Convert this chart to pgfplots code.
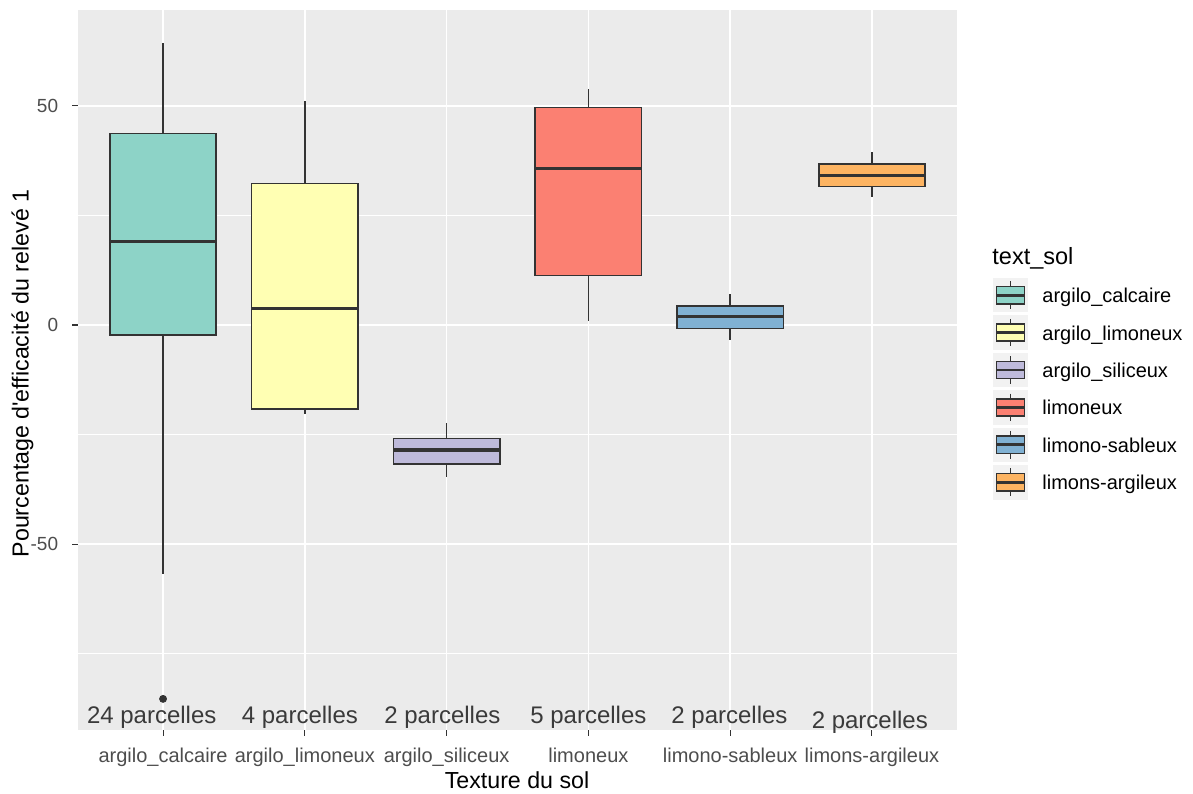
\documentclass[border=0pt]{standalone}
\usepackage{fontspec}
\setmainfont{Liberation Sans}
\usepackage{pgfplots}
\pgfplotsset{compat=1.18}
\usepgfplotslibrary{statistics}
\definecolor{bgcol}{HTML}{EBEBEB}
\definecolor{keybg}{HTML}{F2F2F2}
\definecolor{c333}{HTML}{333333}
\definecolor{tickcol}{HTML}{4D4D4D}
\definecolor{annot}{HTML}{3A3A3A}
\definecolor{s1}{HTML}{8DD3C7}
\definecolor{s2}{HTML}{FFFFB3}
\definecolor{s3}{HTML}{BEBADA}
\definecolor{s4}{HTML}{FB8072}
\definecolor{s5}{HTML}{80B1D3}
\definecolor{s6}{HTML}{FDB462}
\begin{document}
\begin{tikzpicture}
\useasboundingbox (0,0) rectangle (596.5pt,396.5pt);
\begin{axis}[
  at={(39pt,31.5pt)}, anchor=south west,
  scale only axis, width=439.5pt, height=360pt,
  xmin=0.4, xmax=6.6, ymin=-92.4, ymax=71.87,
  clip=false,
  axis background/.style={fill=bgcol},
  axis x line=bottom, axis y line=left,
  axis line style={draw=none},
  xtick={1,2,3,4,5,6},
  xticklabels={argilo\_calcaire,argilo\_limoneux,argilo\_siliceux,limoneux,limono-sableux,limons-argileux},
  ytick={-50,0,50},
  yticklabels={-50,0,50},
  minor ytick={-75,-25,25,75},
  xmajorgrids, ymajorgrids, yminorgrids,
  major grid style={white, line width=0.85pt},
  minor grid style={white, line width=0.45pt},
  tick align=outside,
  major tick length=2.75pt,
  minor tick length=0pt,
  tick style={c333, line width=0.55pt},
  xticklabel style={font=\fontsize{10}{12}\selectfont, text=tickcol, inner sep=0pt, anchor=base, yshift=-13.4pt},
  yticklabel style={font=\fontsize{9.5}{11}\selectfont, text=tickcol, inner sep=0pt, anchor=east, xshift=-7pt},
  boxplot/draw direction=y,
  boxplot/box extend=0.75,
  boxplot/whisker extend=0,
  boxplot/every box/.style={line width=0.8pt},
  boxplot/every whisker/.style={line width=0.8pt},
  boxplot/every median/.style={line width=1.6pt},
]
\addplot[boxplot prepared={draw position=1, lower whisker=-56.8, lower quartile=-2.3, median=19.0, upper quartile=43.7, upper whisker=64.4}, draw=c333, fill=s1, mark=*, mark size=1.75pt, mark options={fill=c333, draw=c333}]
  table[row sep=\\, y index=0] {data\\ -85.3\\};
\addplot[boxplot prepared={draw position=2, lower whisker=-20.4, lower quartile=-19.2, median=3.8, upper quartile=32.3, upper whisker=51.2}, draw=c333, fill=s2] coordinates {};
\addplot[boxplot prepared={draw position=3, lower whisker=-34.6, lower quartile=-31.7, median=-28.5, upper quartile=-25.9, upper whisker=-22.3}, draw=c333, fill=s3] coordinates {};
\addplot[boxplot prepared={draw position=4, lower whisker=0.9, lower quartile=11.3, median=35.7, upper quartile=49.6, upper whisker=53.8}, draw=c333, fill=s4] coordinates {};
\addplot[boxplot prepared={draw position=5, lower whisker=-3.4, lower quartile=-0.8, median=1.9, upper quartile=4.4, upper whisker=7.1}, draw=c333, fill=s5] coordinates {};
\addplot[boxplot prepared={draw position=6, lower whisker=29.3, lower quartile=31.6, median=34.2, upper quartile=36.7, upper whisker=39.4}, draw=c333, fill=s6] coordinates {};
\begin{scope}[every node/.style={font=\fontsize{12}{14}\selectfont, text=annot, inner sep=0pt}]
\node at (axis cs:0.92,-89.6) {24 parcelles};
\node at (axis cs:1.965,-89.6) {4 parcelles};
\node at (axis cs:2.97,-89.6) {2 parcelles};
\node at (axis cs:4,-89.6) {5 parcelles};
\node at (axis cs:4.995,-89.6) {2 parcelles};
\node at (axis cs:5.985,-90.7) {2 parcelles};
\end{scope}
\end{axis}
% axis titles
\node[font=\fontsize{11.6}{14}\selectfont, inner sep=0pt] at (258.5pt,6.5pt) {Texture du sol};
\node[font=\fontsize{11.6}{14}\selectfont, inner sep=0pt, rotate=90] at (11.25pt,209.75pt) {Pourcentage d\textquotesingle efficacité du relevé 1};
% legend
\node[font=\fontsize{11.75}{14}\selectfont, inner sep=0pt, anchor=base west] at (496pt,264pt) {text\_sol};
\foreach \c/\lab [count=\i from 0] in {s1/argilo\_calcaire, s2/argilo\_limoneux, s3/argilo\_siliceux, s4/limoneux, s5/limono-sableux, s6/limons-argileux}{
  \pgfmathsetmacro{\yt}{257.5-18.7*\i}
  \pgfmathsetmacro{\yb}{\yt-17.25}
  \pgfmathsetmacro{\yc}{\yt-8.625}
  \fill[keybg] (496.5pt,\yb pt) rectangle (514pt,\yt pt);
  \draw[c333, line width=0.8pt] (505.25pt,\yt pt-1.7pt) -- (505.25pt,\yb pt+1.7pt);
  \filldraw[fill=\c, draw=c333, line width=0.8pt] (498.2pt,\yc pt-4.3pt) rectangle (512.3pt,\yc pt+4.3pt);
  \draw[c333, line width=1.4pt] (498.2pt,\yc pt) -- (512.3pt,\yc pt);
  \node[font=\fontsize{10}{12}\selectfont, inner sep=0pt, anchor=base west] at (521pt,\yc pt-3.75pt) {\lab};
}
\end{tikzpicture}
\end{document}
